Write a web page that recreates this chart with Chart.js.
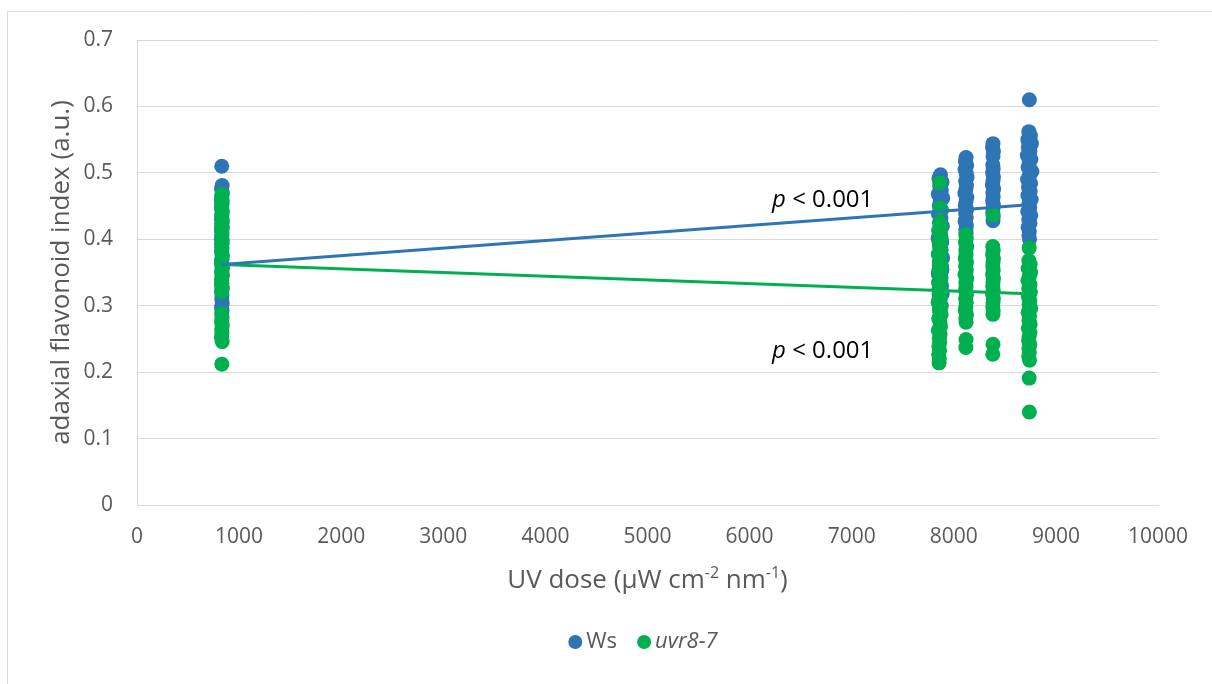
<!DOCTYPE html>
<html>
<head>
<meta charset="utf-8">
<script src="https://cdn.jsdelivr.net/npm/chart.js@4"></script>
<style>
  html, body { margin: 0; padding: 0; background: #fff; }
  #wrap { width: 1212px; height: 684px; }
</style>
</head>
<body>
<div id="wrap"><canvas id="chart" width="1212" height="684"></canvas></div>
<script>
// ---------------------------- data ----------------------------

const xTicks = [0, 1000, 2000, 3000, 4000, 5000, 6000, 7000, 8000, 9000, 10000];
const yTicks = [0, 0.1, 0.2, 0.3, 0.4, 0.5, 0.6, 0.7];

// Ws (blue), one line per dose group
const wsDose = [
    830, 834, 828, 836, 831, 826, 833, 829, 835, 830, 827, 832, 836, 829, 831, 826, 834, 830, 828, 835, 832, 827, 833, 830, 836, 829, 831, 834, 828, 832, 830, 835, 827, 833,
    7870, 7855, 7885, 7862, 7878, 7848, 7892, 7866, 7858, 7880, 7850, 7874, 7864, 7888, 7856, 7870, 7846, 7882, 7860, 7876, 7852, 7890, 7868, 7858, 7884, 7848, 7872, 7862, 7880, 7854, 7886, 7866, 7850, 7878, 7860, 7870,
    8120, 8114, 8126, 8110, 8122, 8130, 8116, 8124, 8118, 8108, 8128, 8120, 8112, 8126, 8116, 8122, 8110, 8124, 8118, 8120,
    8384, 8380, 8388, 8384, 8382, 8386, 8380, 8388, 8384, 8378, 8390, 8382, 8386, 8380, 8388, 8384, 8382, 8386, 8384,
    8740, 8735, 8750, 8725, 8760, 8730, 8745, 8720, 8755, 8738, 8728, 8765, 8742, 8722, 8752, 8732, 8748, 8726, 8758, 8736, 8744, 8724, 8754, 8734, 8746, 8728, 8740, 8736, 8742
];
const wsIndex = [
    0.510, 0.481, 0.476, 0.470, 0.465, 0.459, 0.453, 0.447, 0.441, 0.436, 0.430, 0.424, 0.418, 0.412, 0.406, 0.400, 0.394, 0.388, 0.382, 0.376, 0.370, 0.364, 0.358, 0.352, 0.346, 0.340, 0.334, 0.328, 0.322, 0.316, 0.310, 0.304, 0.298, 0.293,
    0.497, 0.492, 0.486, 0.480, 0.474, 0.468, 0.462, 0.456, 0.450, 0.444, 0.438, 0.432, 0.426, 0.420, 0.414, 0.408, 0.402, 0.396, 0.390, 0.384, 0.378, 0.372, 0.366, 0.360, 0.354, 0.348, 0.342, 0.336, 0.330, 0.324, 0.318, 0.312, 0.306, 0.300, 0.294, 0.288,
    0.523, 0.517, 0.511, 0.505, 0.499, 0.493, 0.487, 0.481, 0.475, 0.469, 0.463, 0.457, 0.451, 0.445, 0.439, 0.433, 0.427, 0.421, 0.415, 0.410,
    0.544, 0.538, 0.532, 0.525, 0.512, 0.506, 0.500, 0.494, 0.488, 0.482, 0.476, 0.470, 0.464, 0.458, 0.452, 0.446, 0.440, 0.434, 0.428,
    0.610, 0.562, 0.556, 0.550, 0.544, 0.538, 0.532, 0.526, 0.520, 0.514, 0.508, 0.502, 0.496, 0.490, 0.484, 0.478, 0.472, 0.466, 0.460, 0.454, 0.448, 0.442, 0.436, 0.430, 0.424, 0.418, 0.412, 0.406, 0.400
];

// uvr8-7 (green), one line per dose group
const uvrDose = [
    832, 828, 835, 830, 826, 834, 831, 829, 836, 830, 827, 833, 830, 835, 828, 832, 830, 834, 828, 831, 836, 829, 832, 830, 827, 834, 831, 829, 833, 828, 835, 830, 832, 827, 834, 831,
    7862, 7868, 7860, 7870, 7852, 7866, 7876, 7856, 7864, 7872, 7848, 7868, 7858, 7880, 7854, 7866, 7874, 7850, 7862, 7878, 7856, 7868, 7846, 7872, 7860, 7876, 7852, 7864, 7870, 7848, 7866, 7858, 7862, 7854, 7860, 7852, 7858, 7856,
    8118, 8122, 8114, 8126, 8118, 8120, 8112, 8124, 8116, 8122, 8110, 8126, 8118, 8120, 8114, 8124, 8116, 8122, 8118, 8112, 8124, 8118, 8120, 8120, 8118,
    8384, 8382, 8386, 8380, 8388, 8384, 8382, 8386, 8380, 8388, 8384, 8382, 8386, 8380, 8388, 8384, 8382, 8386, 8384, 8384, 8382,
    8738, 8735, 8748, 8728, 8752, 8740, 8726, 8746, 8734, 8750, 8730, 8744, 8738, 8754, 8728, 8742, 8736, 8748, 8730, 8746, 8738, 8732, 8744, 8736, 8740, 8734, 8742, 8738, 8740
];
const uvrIndex = [
    0.468, 0.463, 0.458, 0.453, 0.448, 0.443, 0.438, 0.433, 0.428, 0.422, 0.416, 0.410, 0.404, 0.398, 0.392, 0.386, 0.380, 0.374, 0.368, 0.362, 0.356, 0.350, 0.344, 0.338, 0.332, 0.326, 0.321, 0.288, 0.282, 0.276, 0.270, 0.264, 0.258, 0.252, 0.246, 0.212,
    0.485, 0.447, 0.425, 0.419, 0.413, 0.407, 0.401, 0.395, 0.389, 0.383, 0.377, 0.371, 0.365, 0.359, 0.353, 0.347, 0.341, 0.335, 0.329, 0.323, 0.317, 0.311, 0.305, 0.299, 0.293, 0.287, 0.281, 0.275, 0.269, 0.263, 0.257, 0.251, 0.245, 0.239, 0.233, 0.227, 0.221, 0.214,
    0.407, 0.401, 0.395, 0.389, 0.383, 0.377, 0.371, 0.365, 0.359, 0.353, 0.347, 0.341, 0.335, 0.329, 0.323, 0.317, 0.311, 0.305, 0.299, 0.293, 0.287, 0.281, 0.275, 0.249, 0.237,
    0.437, 0.389, 0.383, 0.377, 0.371, 0.365, 0.359, 0.353, 0.347, 0.341, 0.335, 0.329, 0.323, 0.317, 0.311, 0.305, 0.299, 0.293, 0.287, 0.242, 0.227,
    0.387, 0.368, 0.362, 0.356, 0.350, 0.344, 0.338, 0.332, 0.326, 0.320, 0.314, 0.308, 0.302, 0.296, 0.290, 0.284, 0.278, 0.272, 0.266, 0.260, 0.254, 0.248, 0.242, 0.236, 0.230, 0.224, 0.218, 0.191, 0.140
];

// linear trend lines (end points)
const trendDose = [832, 8736];
const wsTrend = [0.362, 0.452];
const uvrTrend = [0.362, 0.318];

// p-value labels, left edge: [dose, index]
const pLabels = [[6220, 0.459], [6220, 0.232]];

const WS_BLUE = '#2E75B6';
const UVR_GREEN = '#00B050';
const TEXT_GREY = '#595959';
const FONT = "'Open Sans', 'Liberation Sans', sans-serif";

function toPoints(xs, ys) {
    return xs.map((x, i) => ({ x: x, y: ys[i] }));
}

// ---------------------------- extra drawing: frame, x title, labels, legend ----------------------------

const decorPlugin = {
    id: 'decor',
    afterDraw(chart) {
        const ctx = chart.ctx;
        const area = chart.chartArea;
        const xs = chart.scales.x;
        const ys = chart.scales.y;
        ctx.save();

        // outer frame (only top and left edges are in view)
        ctx.strokeStyle = '#d9d9d9';
        ctx.lineWidth = 1;
        ctx.beginPath();
        ctx.moveTo(7.5, 684);
        ctx.lineTo(7.5, 11.5);
        ctx.lineTo(1212, 11.5);
        ctx.stroke();

        // x axis title with superscripts
        const cx = (area.left + area.right) / 2;
        const parts = [
            { t: 'UV dose (\u03BCW cm', sup: false },
            { t: '-2', sup: true },
            { t: ' nm', sup: false },
            { t: '-1', sup: true },
            { t: ')', sup: false }
        ];
        const bigFont = '26px ' + FONT;
        const supFont = '16px ' + FONT;
        let total = 0;
        parts.forEach(p => {
            ctx.font = p.sup ? supFont : bigFont;
            p.w = ctx.measureText(p.t).width;
            total += p.w;
        });
        let px = cx - total / 2;
        const base = 588;
        ctx.fillStyle = TEXT_GREY;
        ctx.textBaseline = 'alphabetic';
        ctx.textAlign = 'left';
        parts.forEach(p => {
            ctx.font = p.sup ? supFont : bigFont;
            ctx.fillText(p.t, px, p.sup ? base - 10 : base);
            px += p.w;
        });

        // p-value annotations
        ctx.fillStyle = '#000000';
        ctx.textBaseline = 'middle';
        pLabels.forEach(([d, v]) => {
            const x = xs.getPixelForValue(d);
            const y = ys.getPixelForValue(v);
            ctx.font = 'italic 24px ' + FONT;
            ctx.fillText('p', x, y);
            const pw = ctx.measureText('p').width;
            ctx.font = '24px ' + FONT;
            ctx.fillText(' < 0.001', x + pw, y);
        });

        // legend
        const items = [
            { label: 'Ws', color: WS_BLUE, italic: false },
            { label: 'uvr8-7', color: UVR_GREEN, italic: true }
        ];
        const r = 7, gap = 4, between = 20;
        let lw = 0;
        items.forEach(it => {
            ctx.font = (it.italic ? 'italic ' : '') + '22px ' + FONT;
            it.w = ctx.measureText(it.label).width;
            lw += 2 * r + gap + it.w;
        });
        lw += between;
        let lx = 643 - lw / 2;
        const ly = 642;
        items.forEach(it => {
            ctx.fillStyle = it.color;
            ctx.beginPath();
            ctx.arc(lx + r, ly, r, 0, Math.PI * 2);
            ctx.fill();
            ctx.fillStyle = TEXT_GREY;
            ctx.font = (it.italic ? 'italic ' : '') + '22px ' + FONT;
            ctx.fillText(it.label, lx + 2 * r + gap, ly);
            lx += 2 * r + gap + it.w + between;
        });

        ctx.restore();
    }
};

// ---------------------------- chart ----------------------------

document.addEventListener('DOMContentLoaded', function() {
    const ctx = document.getElementById('chart');

    new Chart(ctx, {
        type: 'scatter',
        data: {
            datasets: [
                {
                    type: 'line',
                    label: 'Ws trend',
                    data: toPoints(trendDose, wsTrend),
                    borderColor: WS_BLUE,
                    borderWidth: 3,
                    pointRadius: 0,
                    fill: false,
                    order: 0
                },
                {
                    type: 'line',
                    label: 'uvr8-7 trend',
                    data: toPoints(trendDose, uvrTrend),
                    borderColor: UVR_GREEN,
                    borderWidth: 3,
                    pointRadius: 0,
                    fill: false,
                    order: 0
                },
                {
                    label: 'uvr8-7',
                    data: toPoints(uvrDose, uvrIndex),
                    backgroundColor: UVR_GREEN,
                    borderColor: UVR_GREEN,
                    borderWidth: 0,
                    pointRadius: 7.5,
                    order: 1
                },
                {
                    label: 'Ws',
                    data: toPoints(wsDose, wsIndex),
                    backgroundColor: WS_BLUE,
                    borderColor: WS_BLUE,
                    borderWidth: 0,
                    pointRadius: 7.5,
                    order: 2
                }
            ]
        },
        options: {
            responsive: false,
            devicePixelRatio: 1,
            animation: false,
            layout: { padding: { left: 0, top: 40, right: 54, bottom: 0 } },
            plugins: {
                legend: { display: false },
                tooltip: { enabled: false }
            },
            scales: {
                x: {
                    type: 'linear',
                    min: xTicks[0],
                    max: xTicks[xTicks.length - 1],
                    afterBuildTicks: scale => { scale.ticks = xTicks.map(v => ({ value: v })); },
                    afterFit: scale => { scale.height = 179; },
                    grid: { display: false, drawTicks: false },
                    border: { display: true, color: '#d9d9d9', width: 1 },
                    ticks: {
                        color: TEXT_GREY,
                        font: { family: FONT, size: 21 },
                        padding: 19,
                        maxRotation: 0,
                        callback: v => String(v)
                    }
                },
                y: {
                    type: 'linear',
                    min: yTicks[0],
                    max: yTicks[yTicks.length - 1],
                    afterBuildTicks: scale => { scale.ticks = yTicks.map(v => ({ value: v })); },
                    afterFit: scale => { scale.width = 137; },
                    grid: { color: '#d9d9d9', lineWidth: 1, drawTicks: false },
                    border: { display: true, color: '#d9d9d9', width: 1 },
                    ticks: {
                        color: TEXT_GREY,
                        font: { family: FONT, size: 21 },
                        padding: 24,
                        callback: v => String(Math.round(v * 10) / 10)
                    },
                    title: {
                        display: true,
                        text: 'adaxial flavonoid index (a.u.)',
                        color: TEXT_GREY,
                        font: { family: FONT, size: 26 },
                        padding: { top: 46, bottom: 0 }
                    }
                }
            }
        },
        plugins: [decorPlugin]
    });
});
</script>
</body>
</html>
